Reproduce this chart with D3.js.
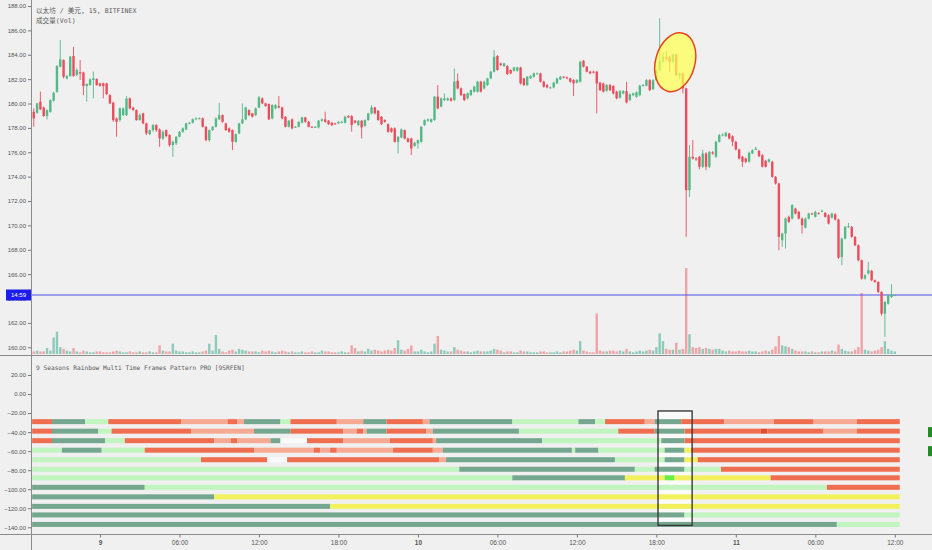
<!DOCTYPE html>
<html><head><meta charset="utf-8">
<script src="https://cdn.jsdelivr.net/npm/d3@7"></script>
<style>body{margin:0;background:#f0f0f0;overflow:hidden}</style>
</head><body><svg id="c" width="932" height="550"></svg>
<script>
// ---------- DATA ----------
const chartTitle = "以太坊 / 美元, 15, BITFINEX";
const volTitle = "成交量(Vol)";
const oscTitle = "9 Seasons Rainbow Multi Time Frames Pattern PRO [9SRFEN]";
const lastPriceLabel = "14:59";
const lastPrice = 164.29;
const startTime = Date.UTC(2019, 11, 8, 19, 0);
const stepMinutes = 15;
// [open, high, low, close]
const candles = [
[179.32,179.60,178.09,178.78],[179.24,180.06,179.15,180.01],[180.15,180.97,179.46,179.52],[179.68,179.74,178.91,178.97],[178.97,179.52,178.70,179.46],
[179.32,180.34,179.24,180.28],[180.23,180.97,180.15,180.88],[180.97,183.16,180.88,183.07],[183.02,185.21,182.96,183.62],[183.57,183.62,182.06,182.20],
[182.06,182.34,181.98,182.25],[182.25,183.90,182.20,183.84],[183.90,184.66,182.20,182.25],[182.34,182.88,182.25,182.75],[182.58,183.57,181.93,182.47],
[182.55,182.61,180.69,181.43],[181.43,181.65,180.15,181.60],[181.51,182.06,181.46,181.98],[181.93,182.61,180.42,182.06],[182.01,182.06,181.46,181.51],
[181.65,181.71,181.38,181.46],[181.65,181.71,180.42,181.43],[181.65,181.71,180.69,180.78],[180.69,180.78,179.95,180.01],[180.06,180.15,178.50,178.64],
[178.78,178.86,177.27,178.50],[178.64,179.68,178.50,179.60],[179.05,179.68,178.97,179.60],[179.05,180.61,178.97,180.42],[180.42,180.50,179.52,179.60],
[179.65,179.74,179.41,179.46],[179.46,179.52,178.59,178.64],[178.64,179.19,178.59,179.05],[179.19,179.24,178.31,178.37],[178.37,178.42,177.41,177.55],
[177.49,177.87,177.41,177.82],[177.82,178.31,177.68,178.23],[178.23,178.31,177.68,177.82],[177.87,177.96,176.45,177.13],[177.13,177.82,177.00,177.68],
[177.82,177.87,177.22,177.33],[177.41,177.49,176.45,176.59],[176.59,176.95,175.63,176.86],[176.73,177.33,176.59,177.27],[177.27,177.75,177.22,177.68],
[177.68,178.04,177.60,177.96],[177.87,178.42,177.82,178.37],[178.37,178.50,178.31,178.42],[178.42,178.78,178.37,178.70],[178.70,178.86,178.64,178.78],
[178.78,178.86,178.70,178.80],[178.78,178.86,178.04,178.09],[178.09,178.15,176.90,177.00],[177.00,177.87,176.86,177.82],[177.82,178.15,177.75,178.09],
[178.09,178.86,178.04,178.78],[178.70,180.06,178.64,179.05],[179.05,179.10,178.42,178.50],[178.37,178.42,177.75,177.82],[177.96,178.04,177.60,177.68],
[177.82,177.87,176.18,176.86],[176.86,177.55,176.78,177.49],[177.55,178.42,177.49,178.37],[178.37,180.01,178.31,178.70],[178.70,179.74,178.64,179.68],
[179.46,179.52,178.97,179.05],[179.19,179.24,178.86,178.91],[179.05,179.68,178.97,179.60],[179.68,180.61,179.60,180.50],[180.42,180.50,179.95,180.01],
[180.01,180.06,179.74,179.79],[179.95,180.01,178.64,178.70],[178.78,179.95,178.70,179.87],[179.60,179.95,179.52,179.87],[179.79,180.61,179.60,179.68],
[179.68,179.74,178.70,178.78],[178.91,178.97,178.04,178.09],[178.09,178.64,178.04,178.59],[178.70,178.78,177.87,177.96],[178.09,178.15,178.04,178.09],
[178.09,178.55,178.04,178.50],
[178.42,178.91,178.37,178.86],[178.86,178.91,178.42,178.50],[178.50,178.59,178.04,178.09],[178.09,178.15,178.00,178.07],[178.07,178.15,178.02,178.09],
[178.04,178.64,177.96,178.59],[178.59,178.78,178.50,178.70],[178.70,179.32,178.42,178.50],[178.59,178.64,178.23,178.31],[178.42,178.50,178.15,178.23],
[178.37,178.42,178.28,178.35],[178.37,178.55,178.31,178.50],[178.42,178.59,178.37,178.50],[178.42,179.00,178.37,178.91],[178.97,179.05,178.80,178.86],
[178.97,179.05,177.68,178.23],[178.59,178.64,178.37,178.42],[178.23,178.64,178.15,178.59],[178.59,178.64,177.13,178.04],[178.15,178.70,178.09,178.64],
[178.64,179.24,178.59,179.19],[179.19,179.87,179.10,179.68],[179.68,179.74,179.10,179.19],[179.41,179.46,178.59,178.64],[178.91,178.97,178.23,178.31],
[178.64,178.70,178.42,178.50],[178.31,178.37,177.60,177.68],[177.96,178.04,177.60,177.68],[177.96,178.04,176.78,176.86],[176.86,177.33,175.90,177.27],
[177.22,177.96,177.13,177.87],[177.82,177.87,177.05,177.13],[177.13,177.20,176.78,176.86],[177.13,177.20,175.77,176.31],[176.51,176.86,176.45,176.78],
[176.73,177.05,176.31,177.00],[176.86,178.15,176.78,178.09],[178.23,178.70,178.15,178.64],[178.59,178.78,178.50,178.70],[178.50,178.78,178.42,178.70],
[178.64,180.61,178.59,180.56],[180.56,181.51,179.52,179.60],[179.74,180.50,179.68,180.42],[180.28,180.83,180.20,180.42],[180.28,180.50,180.20,180.42],
[180.42,180.50,180.15,180.23],[180.28,182.88,180.20,181.79],[181.87,182.47,181.15,181.24],[181.24,181.32,180.61,180.69],[180.78,180.83,180.20,180.28],
[180.42,180.90,180.34,180.83],[180.69,181.15,180.61,181.10],[180.97,181.46,180.90,181.38],[180.97,181.87,180.90,181.79],[181.79,181.87,180.90,180.97],
[181.24,181.87,181.15,181.79],[181.51,182.12,181.43,182.06],[182.06,182.69,182.00,182.61],[182.61,184.39,182.55,183.84],[183.90,183.98,182.69,182.75],
[183.29,183.35,183.07,183.16],[183.07,183.35,183.00,183.29],[183.07,183.16,182.34,182.42],[182.75,182.80,182.40,182.47],[182.69,183.02,182.61,182.96],
[182.69,183.02,182.61,182.96],[182.96,183.02,181.55,181.65],[182.06,182.12,181.43,181.51],[181.51,182.25,181.43,182.20],[182.06,182.34,182.00,182.25],
[182.20,182.55,182.12,182.47],[182.47,182.55,182.40,182.47],[182.47,182.53,181.71,181.79],[181.79,181.87,181.30,181.38],[181.51,181.60,181.24,181.32],
[181.32,181.40,181.24,181.32],[181.32,181.79,181.24,181.71],[181.65,182.12,181.60,182.06],[181.98,182.25,181.93,182.20],[182.20,182.25,182.08,182.15],
[182.15,182.20,182.00,182.06],[182.06,182.12,181.71,181.79],[181.93,182.00,180.61,181.65],[181.71,182.00,181.65,181.93],[181.79,183.51,181.71,183.43],
[183.51,183.57,182.96,183.02],[183.02,183.07,182.55,182.61],[182.61,182.69,182.40,182.47],[182.61,182.69,182.47,182.53],[182.61,182.69,179.19,181.65],
[181.71,181.79,181.02,181.10],[181.65,181.71,180.90,180.97],[181.05,181.60,180.97,181.51],[181.51,181.60,181.02,181.10],[181.43,181.51,180.75,180.83],
[180.97,181.05,180.34,180.42],
[180.47,181.10,180.40,181.02],[180.83,181.10,180.75,181.02],[181.02,181.78,180.01,180.09],[180.28,180.83,180.20,180.75],[180.69,180.90,180.60,180.83],
[180.55,181.00,180.47,180.91],[180.69,181.55,180.60,181.46],[181.46,181.60,181.40,181.51],[181.46,182.00,181.40,181.92],[181.92,182.00,181.02,181.10],
[181.18,182.00,181.10,181.92],[181.92,182.82,181.85,182.74],[182.74,186.99,182.66,183.48],[183.43,184.20,183.35,183.84],[183.78,184.30,183.55,183.65],
[183.78,183.90,182.61,183.43],[183.43,184.10,183.35,184.03],[184.03,184.10,182.25,182.33],[182.28,182.55,182.00,182.47],[182.47,182.55,180.83,181.24],
[181.24,181.30,169.06,172.89],[172.89,176.59,172.34,175.63],[175.63,177.00,175.40,175.49],[175.49,175.60,175.30,175.45],[175.63,175.70,174.60,174.81],
[174.81,176.20,174.70,175.90],[175.90,176.00,174.53,174.81],[174.81,176.10,174.70,176.04],[176.00,176.10,175.80,175.90],[175.63,176.95,175.55,176.86],
[176.86,177.50,176.80,177.41],[177.41,177.55,177.30,177.45],[177.32,177.68,177.25,177.60],[177.54,177.60,177.05,177.13],[177.32,177.40,176.50,176.86],
[176.86,176.95,176.15,176.23],[176.23,176.30,175.40,175.49],[175.63,175.70,174.80,175.22],[175.49,175.55,175.10,175.22],[175.22,176.05,175.15,175.96],
[175.90,176.25,175.85,176.17],[176.20,176.45,176.20,176.31],[176.12,176.20,175.60,175.68],[175.76,175.85,174.75,174.81],[175.30,175.38,174.75,174.81],
[175.22,175.50,175.15,175.41],[175.22,175.30,173.90,173.99],[173.99,174.05,173.35,173.44],
[173.44,173.50,167.96,169.06],[168.78,169.40,168.24,169.33],[169.33,170.65,168.10,170.56],[170.70,170.80,170.20,170.29],[170.56,171.75,170.48,171.66],
[171.38,171.45,170.90,170.97],[171.11,171.20,170.48,170.56],[170.56,170.65,169.33,170.02],[169.82,170.65,169.75,170.56],[170.56,171.05,170.48,170.97],
[170.97,171.05,170.88,170.95],[170.70,171.20,170.64,171.11],[171.00,171.08,170.90,170.97],[171.15,171.30,171.10,171.19],[171.03,171.10,170.64,170.70],
[170.84,170.92,170.08,170.15],[170.64,171.05,170.56,170.97],[170.92,171.00,170.40,170.48],[170.48,170.55,167.25,167.36],[167.41,169.00,166.73,168.92],
[168.92,169.95,168.85,169.88],[169.88,170.21,169.80,169.93],[169.88,169.95,168.98,169.06],[169.06,169.12,168.30,168.37],[168.37,168.45,167.05,167.14],
[167.14,167.20,165.55,165.64],[165.64,166.00,165.55,165.91],[166.05,167.00,165.98,166.32],[166.27,166.35,165.42,165.50],[165.50,165.55,165.28,165.36],
[165.36,165.42,164.45,164.54],[164.54,164.60,162.60,162.76],[162.76,163.80,160.85,163.72],[163.58,164.35,163.50,164.27],[164.13,165.17,164.05,164.27],
[164.27,164.35,164.20,164.29]
];
const volumes = [
3,4,3,3,7,4,19,26,8,6,4,3,7,3,2,4,3,2,2,3,
3,2,2,2,3,4,3,2,2,3,2,2,3,2,2,3,2,2,10,4,
3,3,12,4,3,3,2,2,3,2,2,3,4,12,4,22,6,3,2,4,
5,3,6,5,4,3,3,3,2,4,3,4,3,2,3,4,3,2,3,2,
2,3,2,2,3,2,2,4,3,3,2,2,2,3,2,2,10,7,3,4,
3,6,4,5,4,3,4,5,4,7,16,5,4,6,10,3,3,5,3,2,
3,12,21,5,4,3,3,8,5,4,3,3,2,3,4,3,3,3,4,6,
5,4,2,3,3,2,2,4,3,3,2,2,2,3,3,2,2,2,3,2,
3,3,4,5,4,15,4,3,2,2,47,4,3,3,4,4,3,4,3,6,
3,2,3,4,3,4,5,4,8,24,15,6,5,5,13,5,6,100,23,8,
7,8,6,7,6,5,6,6,4,3,4,3,3,4,3,3,4,3,3,2,
3,4,3,5,9,21,10,9,8,6,4,3,3,3,2,3,2,2,3,3,
3,4,3,11,6,4,3,3,5,8,71,5,4,3,4,5,8,15,6,4,3
];
const priceTicks = [160,162,164,166,168,170,172,174,176,178,180,182,184,186,188];
const oscTicks = [20,0,-20,-40,-60,-80,-100,-120,-140];
const timeTicks = [
  Date.UTC(2019,11,9,0), Date.UTC(2019,11,9,6), Date.UTC(2019,11,9,12), Date.UTC(2019,11,9,18),
  Date.UTC(2019,11,10,0), Date.UTC(2019,11,10,6), Date.UTC(2019,11,10,12), Date.UTC(2019,11,10,18),
  Date.UTC(2019,11,11,0), Date.UTC(2019,11,11,6), Date.UTC(2019,11,11,12)
];
// rainbow rows: level + segments [startIndex, stateKey]
const rowLevels = [-29,-39,-49,-59,-69,-79,-88,-98,-108,-118,-127,-137];
const rainbowCells = 262;
const rainbowRows = [
 [[0,'R'],[6,'D'],[16,'L'],[23,'R'],[45,'S'],[59,'R'],[62,'S'],[64,'D'],[75,'L'],[78,'R'],[92,'S'],[100,'D'],[107,'R'],[118,'S'],[120,'D'],[145,'L'],[165,'D'],[170,'L'],[173,'R'],[185,'S'],[188,'D'],[196,'R'],[209,'S'],[224,'R'],[236,'S'],[249,'R']],
 [[0,'R'],[6,'D'],[20,'L'],[24,'R'],[48,'S'],[67,'D'],[78,'R'],[94,'S'],[98,'R'],[100,'S'],[101,'D'],[107,'R'],[119,'S'],[121,'D'],[147,'L'],[177,'R'],[188,'D'],[197,'R'],[220,'K'],[222,'R'],[239,'S'],[249,'R']],
 [[0,'R'],[6,'D'],[22,'L'],[28,'R'],[55,'S'],[60,'R'],[62,'S'],[72,'D'],[75,'W'],[83,'R'],[94,'S'],[108,'R'],[121,'S'],[122,'D'],[154,'L'],[190,'D'],[197,'R']],
 [[0,'L'],[9,'D'],[21,'L'],[34,'R'],[67,'S'],[85,'R'],[87,'S'],[90,'R'],[92,'S'],[109,'R'],[121,'S'],[124,'D'],[163,'L'],[164,'D'],[171,'L'],[191,'D'],[197,'Y'],[199,'R']],
 [[0,'L'],[51,'R'],[71,'W'],[77,'R'],[123,'S'],[125,'D'],[176,'L'],[191,'D'],[197,'Y'],[201,'R']],
 [[0,'L'],[129,'D'],[182,'L'],[188,'D'],[197,'L'],[208,'R']],
 [[0,'L'],[145,'D'],[179,'Y'],[191,'G'],[194,'Y'],[223,'R']],
 [[0,'D'],[34,'L'],[240,'R']],
 [[0,'D'],[55,'Y']],
 [[0,'D'],[90,'Y']],
 [[0,'D'],[197,'L']],
 [[0,'D'],[243,'L']]
];
const stateColors = {D:'#75a68f', L:'#c1f4bf', R:'#f06e50', S:'#f6aa93', Y:'#f3f05e', G:'#66ee44', W:'#f9f9f9', K:'#e04a2e'};
const sideMarkers = [-40, -60];
// annotations (in data units)
const highlightBox = {from:188.5, to:198.8, top:-17.8, bottom:-138};
const highlightEllipse = {index:193.7, price:183.39};

// ---------- DRAW ----------
(function(){
const W = 932, H = 550;
const svg = d3.select('#c');
svg.append('rect').attr('width',W).attr('height',H).attr('fill','#f0f0f0');
const defs = svg.append('defs');
defs.append('clipPath').attr('id','clipTop').append('rect').attr('x',31).attr('y',0).attr('width',W-31).attr('height',355);

const tOf = i => new Date(startTime + i*stepMinutes*60000);
const x = d3.scaleUtc().domain([new Date(timeTicks[0]), new Date(timeTicks[10])]).range([100, 894.8]);
const xi = i => x(tOf(i));
const half = (xi(1)-xi(0))/2;
const yP = d3.scaleLinear().domain([160,188]).range([347.3,6]);
const yV = d3.scaleLinear().domain([0,100]).range([354,268]);
const yO = d3.scaleLinear().domain([-140,20]).range([527.3,375]);

const upC='#53b987', dnC='#eb4d5c', volUp='#8ccbb9', volDn='#f0a3a6';
const isUp = d => d[3] >= d[0];

const pane = svg.append('g').attr('clip-path','url(#clipTop)');
pane.selectAll('rect.v').data(volumes).join('rect').attr('class','v')
  .attr('x',(d,i)=>xi(i)-1.2).attr('width',2.4)
  .attr('y',d=>yV(d)).attr('height',d=>yV(0)-yV(d))
  .attr('fill',(d,i)=>isUp(candles[i])?volUp:volDn);
pane.append('line').attr('x1',31).attr('x2',W).attr('y1',yP(lastPrice)).attr('y2',yP(lastPrice))
  .attr('stroke','#5050f0').attr('stroke-width',1);
pane.selectAll('line.w').data(candles).join('line').attr('class','w')
  .attr('x1',(d,i)=>xi(i)).attr('x2',(d,i)=>xi(i))
  .attr('y1',d=>yP(d[1])).attr('y2',d=>yP(d[2]))
  .attr('stroke',d=>isUp(d)?upC:dnC).attr('stroke-width',0.9);
pane.selectAll('rect.b').data(candles).join('rect').attr('class','b')
  .attr('x',(d,i)=>xi(i)-1.2).attr('width',2.4)
  .attr('y',d=>yP(Math.max(d[0],d[3])))
  .attr('height',d=>Math.max(1,Math.abs(yP(d[0])-yP(d[3]))))
  .attr('fill',d=>isUp(d)?upC:dnC);
const ex = xi(highlightEllipse.index), ey = yP(highlightEllipse.price);
pane.append('ellipse').attr('cx',ex).attr('cy',ey).attr('rx',19.7).attr('ry',30)
  .attr('transform',`rotate(15,${ex},${ey})`)
  .attr('fill','#ffff50').attr('fill-opacity',0.72)
  .attr('stroke','#e5461e').attr('stroke-width',1.5);

const bx0 = xi(highlightBox.from), bx1 = xi(highlightBox.to);
svg.append('rect').attr('x',bx0).attr('y',yO(highlightBox.top)).attr('width',bx1-bx0)
  .attr('height',yO(highlightBox.bottom)-yO(highlightBox.top)).attr('fill','#fafafa');

rainbowRows.forEach((segs,r)=>{
  const yc = yO(rowLevels[r]);
  segs.forEach((s,k)=>{
    const end = k<segs.length-1 ? segs[k+1][0] : rainbowCells;
    svg.append('rect').attr('x',xi(s[0])-half).attr('width',xi(end)-xi(s[0]))
      .attr('y',yc-2.5).attr('height',5).attr('fill',stateColors[s[1]]);
  });
});
svg.append('rect').attr('x',bx0).attr('y',yO(highlightBox.top)).attr('width',bx1-bx0)
  .attr('height',yO(highlightBox.bottom)-yO(highlightBox.top)).attr('fill','none')
  .attr('stroke','#3a3a3a').attr('stroke-width',1.4);

sideMarkers.forEach(v=>{
  svg.append('rect').attr('x',928).attr('y',yO(v)-5).attr('width',6).attr('height',10).attr('fill','#1f8c24');
});

svg.append('line').attr('x1',0).attr('x2',W).attr('y1',355.5).attr('y2',355.5).attr('stroke','#8c8c8c');
svg.append('line').attr('x1',0).attr('x2',W).attr('y1',534.5).attr('y2',534.5).attr('stroke','#8c8c8c');
svg.append('line').attr('x1',31.5).attr('x2',31.5).attr('y1',0).attr('y2',H).attr('stroke','#8c8c8c');

const tickFont = '"Liberation Sans", Arial, sans-serif';
function styleAxis(g){
  g.select('.domain').remove();
  g.selectAll('.tick line').attr('stroke','#777');
  g.selectAll('.tick text').attr('fill','#555').style('font-family',tickFont);
}
svg.append('g').attr('transform','translate(31,0)')
  .call(d3.axisLeft(yP).tickValues(priceTicks).tickFormat(d3.format('.2f')).tickSize(3).tickPadding(2))
  .call(styleAxis).call(g=>g.selectAll('text').style('font-size','6px'));
svg.append('g').attr('transform','translate(31,0)')
  .call(d3.axisLeft(yO).tickValues(oscTicks).tickFormat(d3.format('.2f')).tickSize(3).tickPadding(2))
  .call(styleAxis).call(g=>g.selectAll('text').style('font-size','6px'));
svg.append('g').attr('transform','translate(0,534.5)')
  .call(d3.axisBottom(x).tickValues(timeTicks.map(t=>new Date(t))).tickSize(3).tickPadding(3)
     .tickFormat(d=>d.getUTCHours()===0 ? String(d.getUTCDate()) : d3.utcFormat('%H:%M')(d)))
  .call(styleAxis)
  .call(g=>g.selectAll('text').style('font-size','6.5px')
     .style('font-weight',d=>new Date(d).getUTCHours()===0?'bold':'normal'));

const ly = yP(lastPrice);
svg.append('rect').attr('x',6).attr('y',ly-5.5).attr('width',25).attr('height',11).attr('fill','#1c1cf0');
svg.append('text').attr('x',18.5).attr('y',ly).attr('dy','0.35em').attr('text-anchor','middle')
  .attr('fill','#fff').style('font-family',tickFont).style('font-size','6px').text(lastPriceLabel);

const monoFont = '"DejaVu Sans Mono","Noto Sans CJK SC",monospace';
svg.append('text').attr('x',36).attr('y',13).attr('fill','#5a5a5a')
  .style('font-family',monoFont).style('font-size','6.6px').text(chartTitle);
svg.append('text').attr('x',36).attr('y',23).attr('fill','#5a5a5a')
  .style('font-family',monoFont).style('font-size','6.6px').text(volTitle);
svg.append('text').attr('x',36).attr('y',369.5).attr('fill','#5a5a5a')
  .style('font-family',monoFont).style('font-size','6.2px').text(oscTitle);
})();
</script></body></html>
